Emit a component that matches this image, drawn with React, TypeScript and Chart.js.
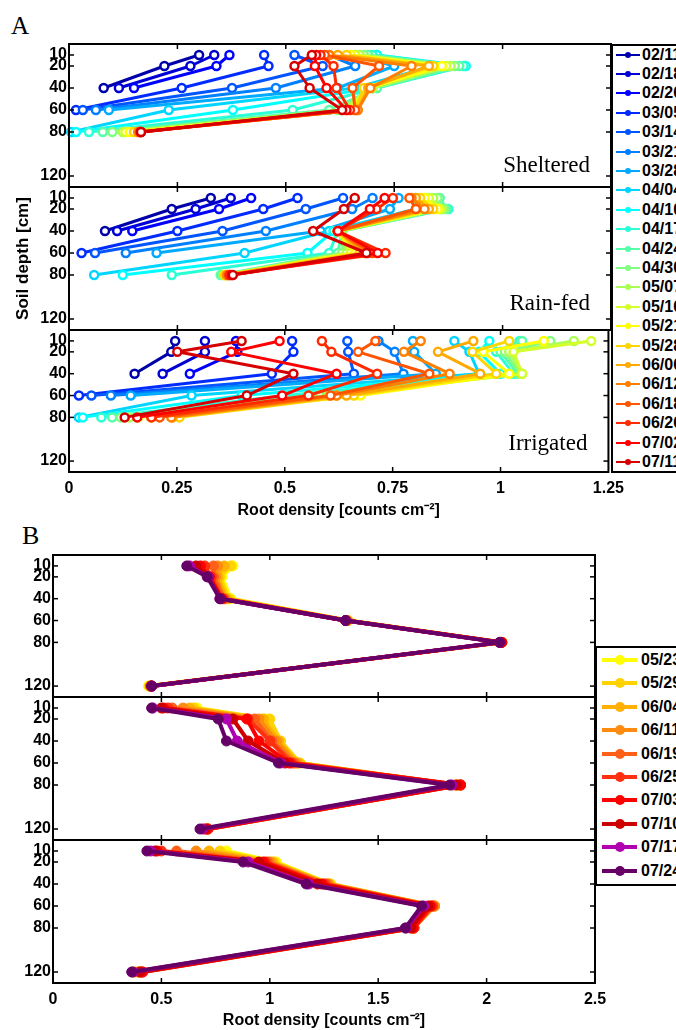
import React, { useEffect, useRef } from 'react';
import { Chart, registerables } from 'chart.js';

Chart.register(...registerables);

// ---------------- data ----------------
const depthsA = [10, 20, 40, 60, 80];
const depthsB = [10, 20, 40, 60, 80, 120];
const depthTicks = [10, 20, 40, 60, 80, 120];

const datesA = ['02/11', '02/18', '02/26', '03/05', '03/14', '03/21', '03/28', '04/04', '04/10', '04/17', '04/24',
  '04/30', '05/07', '05/16', '05/21', '05/28', '06/06', '06/12', '06/18', '06/26', '07/02', '07/11'];
const datesB = ['05/23', '05/29', '06/04', '06/11', '06/19', '06/25', '07/03', '07/10', '07/17', '07/24'];

const colorsA = ['rgb(0,0,170)', 'rgb(0,0,213)', 'rgb(0,0,255)', 'rgb(0,43,255)', 'rgb(0,85,255)', 'rgb(0,128,255)',
  'rgb(0,170,255)', 'rgb(0,213,255)', 'rgb(0,255,255)', 'rgb(43,255,213)', 'rgb(85,255,170)', 'rgb(128,255,128)',
  'rgb(170,255,85)', 'rgb(213,255,43)', 'rgb(255,255,0)', 'rgb(255,213,0)', 'rgb(255,170,0)', 'rgb(255,128,0)',
  'rgb(255,85,0)', 'rgb(255,43,0)', 'rgb(255,0,0)', 'rgb(213,0,0)'];
const colorsB = ['#ffff00', '#ffd200', '#ffb000', '#ff8c10', '#ff6018', '#ff3010', '#ff0000', '#cc0000', '#b000b0', '#660066'];

const xTicksA = [0, 0.25, 0.5, 0.75, 1, 1.25];
const xTicksB = [0, 0.5, 1, 1.5, 2, 2.5];

// root density per date (rows) at depthsA (columns)
const sheltered: (number | null)[][] = [
  [0.30, 0.22, 0.08, null, null],
  [0.335, 0.28, 0.115, null, null],
  [0.37, 0.34, 0.15, null, null],
  [0.45, 0.46, 0.26, 0.016, null],
  [0.52, 0.585, 0.376, 0.032, null],
  [0.60, 0.66, 0.477, 0.062, null],
  [0.66, 0.75, 0.62, 0.092, null],
  [0.71, 0.84, 0.66, 0.23, 0.005],
  [0.71, 0.915, 0.70, 0.378, 0.016],
  [0.70, 0.91, 0.71, 0.516, 0.046],
  [0.69, 0.90, 0.71, 0.60, 0.078],
  [0.68, 0.89, 0.70, 0.62, 0.10],
  [0.67, 0.88, 0.70, 0.63, 0.124],
  [0.66, 0.87, 0.69, 0.64, 0.13],
  [0.65, 0.86, 0.69, 0.65, 0.14],
  [0.64, 0.84, 0.68, 0.66, 0.15],
  [0.62, 0.83, 0.69, 0.665, 0.16],
  [0.60, 0.79, 0.695, 0.666, 0.16],
  [0.59, 0.715, 0.654, 0.66, 0.165],
  [0.58, 0.61, 0.617, 0.648, 0.165],
  [0.57, 0.567, 0.594, 0.64, 0.166],
  [0.56, 0.52, 0.555, 0.63, 0.166],
];
const rainfed: (number | null)[][] = [
  [0.327, 0.237, 0.083, null, null],
  [0.373, 0.292, 0.111, null, null],
  [0.42, 0.346, 0.146, null, null],
  [0.527, 0.448, 0.25, 0.029, null],
  [0.632, 0.546, 0.354, 0.06, null],
  [0.70, 0.653, 0.454, 0.131, null],
  [0.76, 0.74, 0.58, 0.202, null],
  [0.80, 0.80, 0.60, 0.405, 0.058],
  [0.83, 0.86, 0.61, 0.55, 0.124],
  [0.85, 0.875, 0.62, 0.60, 0.237],
  [0.855, 0.87, 0.63, 0.62, 0.35],
  [0.85, 0.865, 0.63, 0.63, 0.355],
  [0.84, 0.86, 0.625, 0.64, 0.36],
  [0.83, 0.855, 0.62, 0.65, 0.36],
  [0.82, 0.85, 0.62, 0.66, 0.36],
  [0.81, 0.84, 0.62, 0.67, 0.36],
  [0.80, 0.83, 0.62, 0.68, 0.365],
  [0.79, 0.82, 0.62, 0.69, 0.365],
  [0.785, 0.80, 0.62, 0.70, 0.37],
  [0.747, 0.709, 0.62, 0.73, 0.37],
  [0.728, 0.694, 0.62, 0.712, 0.375],
  [0.659, 0.634, 0.563, 0.686, 0.378],
];
const irrigated: (number | null)[][] = [
  [0.246, 0.237, 0.152, null, null],
  [0.315, 0.315, 0.217, null, null],
  [0.387, 0.39, 0.28, null, null],
  [0.517, 0.52, 0.47, 0.023, null],
  [0.645, 0.647, 0.66, 0.052, null],
  [0.717, 0.755, 0.775, 0.097, null],
  [0.797, 0.80, 0.85, 0.143, null],
  [0.893, 0.928, 0.95, 0.284, 0.023],
  [0.974, 0.95, 1.0, 0.40, 0.032],
  [1.044, 0.99, 1.03, 0.50, 0.075],
  [1.05, 1.0, 1.04, 0.56, 0.10],
  [1.115, 1.01, 1.045, 0.58, 0.12],
  [1.17, 1.02, 1.05, 0.60, 0.14],
  [1.21, 1.03, 1.05, 0.62, 0.16],
  [1.10, 0.96, 1.02, 0.675, 0.19],
  [1.02, 0.935, 0.99, 0.66, 0.256],
  [0.937, 0.855, 0.953, 0.643, 0.24],
  [0.815, 0.776, 0.882, 0.62, 0.237],
  [0.71, 0.67, 0.835, 0.606, 0.21],
  [0.586, 0.608, 0.714, 0.555, 0.191],
  [0.488, 0.376, 0.62, 0.494, 0.158],
  [0.40, 0.251, 0.52, 0.412, 0.129],
];

// panel B: rows = dates, columns = depthsB
const panelB1: number[][] = [
  [0.83, 0.78, 0.82, 1.36, 2.07, 0.44],
  [0.82, 0.77, 0.81, 1.36, 2.07, 0.445],
  [0.79, 0.76, 0.80, 1.36, 2.07, 0.45],
  [0.76, 0.75, 0.79, 1.355, 2.07, 0.45],
  [0.74, 0.74, 0.79, 1.355, 2.07, 0.45],
  [0.70, 0.73, 0.78, 1.35, 2.07, 0.455],
  [0.68, 0.72, 0.78, 1.35, 2.07, 0.455],
  [0.66, 0.72, 0.775, 1.35, 2.065, 0.455],
  [0.63, 0.715, 0.77, 1.35, 2.06, 0.455],
  [0.617, 0.711, 0.77, 1.35, 2.06, 0.455],
];
const panelB2: number[][] = [
  [0.665, 0.98, 1.03, 1.13, 1.86, 0.71],
  [0.65, 1.0, 1.05, 1.14, 1.86, 0.71],
  [0.63, 0.97, 1.04, 1.13, 1.87, 0.715],
  [0.60, 0.95, 1.03, 1.12, 1.87, 0.715],
  [0.55, 0.93, 1.01, 1.11, 1.88, 0.715],
  [0.53, 0.90, 1.0, 1.10, 1.88, 0.715],
  [0.51, 0.894, 0.95, 1.09, 1.88, 0.71],
  [0.50, 0.83, 0.90, 1.07, 1.86, 0.70],
  [0.46, 0.80, 0.85, 1.05, 1.84, 0.69],
  [0.455, 0.762, 0.80, 1.04, 1.83, 0.678],
];
const panelB3: number[][] = [
  [0.80, 1.03, 1.28, 1.75, 1.65, 0.37],
  [0.77, 1.02, 1.28, 1.76, 1.66, 0.38],
  [0.72, 1.01, 1.27, 1.76, 1.66, 0.39],
  [0.66, 1.00, 1.27, 1.76, 1.665, 0.40],
  [0.57, 0.99, 1.26, 1.75, 1.665, 0.41],
  [0.50, 0.98, 1.25, 1.75, 1.665, 0.415],
  [0.48, 0.97, 1.24, 1.74, 1.66, 0.41],
  [0.47, 0.95, 1.22, 1.73, 1.65, 0.40],
  [0.45, 0.90, 1.18, 1.71, 1.63, 0.37],
  [0.433, 0.877, 1.168, 1.70, 1.625, 0.363],
];

const panelNamesA = ['Sheltered', 'Rain-fed', 'Irrigated'];
const xTitle = 'Root density [counts cm\u207B\u00B2]';
const yTitle = 'Soil depth [cm]';

// ---------------- styling ----------------
const SANS = "'Liberation Sans', Arial, Helvetica, sans-serif";
const SERIF = "'Liberation Serif', 'Times New Roman', serif";
const tickFont = { family: SANS, size: 16, weight: 700 };

interface Spec {
  series: (number | null)[][];
  depths: number[];
  dates: string[];
  colors: string[];
  xMax: number;
  xTicks: number[];
  yAxisWidth: number;
  showX: boolean;
  xAxisHeight: number;
  showYTitle: boolean;
  label?: string;
  labelDy?: number;
  lineWidth: number;
  pointRadius: number;
  pointBorder: number;
  hollow: boolean;
  padTop: number;
  padBottom: number;
  padRight: number;
}

function buildConfig(s: Spec): any {
  const datasets = s.series.map((vals, i) => {
    const pts: { x: number; y: number }[] = [];
    vals.forEach((v, j) => {
      if (v !== null && v !== undefined) pts.push({ x: v, y: s.depths[j] });
    });
    return {
      label: s.dates[i],
      data: pts,
      borderColor: s.colors[i],
      backgroundColor: s.colors[i],
      pointBorderColor: s.colors[i],
      pointBackgroundColor: s.hollow ? '#ffffff' : s.colors[i],
      borderWidth: s.lineWidth,
      borderJoinStyle: 'round',
      borderCapStyle: 'round',
      pointRadius: s.pointRadius,
      pointBorderWidth: s.pointBorder,
      tension: 0,
      order: s.series.length - i,
      clip: 6,
    };
  });

  const framePlugin = {
    id: 'frame',
    afterDraw(chart: any) {
      const { ctx, chartArea: a, scales } = chart;
      ctx.save();
      ctx.strokeStyle = '#000';
      ctx.lineWidth = 1.5;
      const line = (x1: number, y1: number, x2: number, y2: number) => {
        ctx.beginPath();
        ctx.moveTo(x1, y1);
        ctx.lineTo(x2, y2);
        ctx.stroke();
      };
      (scales.y.ticks || []).forEach((t: any) => {
        const py = scales.y.getPixelForValue(t.value);
        line(a.left, py, a.left + 5, py);
        line(a.right - 5, py, a.right, py);
      });
      (scales.x.ticks || []).forEach((t: any) => {
        const px = scales.x.getPixelForValue(t.value);
        if (px <= a.left + 2 || px >= a.right - 2) return;
        line(px, a.top, px, a.top + 5);
        line(px, a.bottom - 5, px, a.bottom);
      });
      ctx.lineWidth = 2;
      ctx.strokeRect(a.left, a.top, a.right - a.left, a.bottom - a.top);
      if (s.label) {
        ctx.font = `23px ${SERIF}`;
        ctx.fillStyle = '#000';
        ctx.textAlign = 'right';
        ctx.textBaseline = 'alphabetic';
        ctx.fillText(s.label, a.right - 21, a.top + (s.labelDy || 0));
      }
      ctx.restore();
    },
  };

  const xScale: any = {
    type: 'linear',
    min: 0,
    max: s.xMax,
    display: s.showX,
    grid: { display: false, drawTicks: false },
    border: { display: false },
    afterBuildTicks: (sc: any) => {
      sc.ticks = s.xTicks.map((v) => ({ value: v }));
    },
    ticks: {
      font: tickFont, color: '#000', padding: 7, maxRotation: 0, autoSkip: false,
      callback: (v: any) => String(v),
    },
    title: {
      display: s.showX,
      text: xTitle,
      font: tickFont,
      color: '#000',
      padding: { top: 0, bottom: 0 },
    },
  };
  if (s.showX) {
    xScale.afterFit = (sc: any) => {
      sc.height = s.xAxisHeight;
    };
  }

  return {
    type: 'line',
    data: { datasets },
    options: {
      responsive: false,
      maintainAspectRatio: false,
      animation: false,
      devicePixelRatio: 1,
      events: [],
      layout: { padding: { top: s.padTop, bottom: s.padBottom, left: 0, right: s.padRight } },
      plugins: { legend: { display: false }, tooltip: { enabled: false } },
      scales: {
        x: xScale,
        y: {
          type: 'linear',
          min: 0,
          max: 130,
          reverse: true,
          grid: { display: false, drawTicks: false },
          border: { display: false },
          afterBuildTicks: (sc: any) => {
            sc.ticks = depthTicks.map((v) => ({ value: v }));
          },
          afterFit: (sc: any) => {
            sc.width = s.yAxisWidth;
          },
          ticks: { font: tickFont, color: '#000', padding: 2, autoSkip: false, callback: (v: any) => String(v) },
          title: {
            display: s.showYTitle,
            text: yTitle,
            font: { family: SANS, size: 17, weight: 700 },
            color: '#000',
            padding: { top: 13, bottom: 0 },
          },
        },
      },
    },
    plugins: [framePlugin],
  };
}

function ChartBox(props: { left: number; top: number; width: number; height: number; spec: Spec }) {
  const ref = useRef<HTMLCanvasElement>(null);
  useEffect(() => {
    const chart = new Chart(ref.current as HTMLCanvasElement, buildConfig(props.spec));
    return () => chart.destroy();
  }, []);
  return (
    <canvas
      ref={ref}
      width={props.width}
      height={props.height}
      style={{ position: 'absolute', left: props.left, top: props.top, width: props.width, height: props.height }}
    />
  );
}

function Legend(props: {
  left: number; top: number; height: number; dates: string[]; colors: string[];
  firstY: number; step: number; lineX1: number; lineX2: number; dotX: number; dotR: number; lineW: number; textX: number;
}) {
  const p = props;
  return (
    <div
      style={{
        position: 'absolute', left: p.left, top: p.top, width: 200, height: p.height,
        border: '2px solid #000', background: '#fff', boxSizing: 'border-box',
      }}
    >
      {p.dates.map((d, i) => {
        const cy = p.firstY + i * p.step - p.top - 2;
        const lx = p.left + 2;
        return (
          <div key={d} style={{ position: 'absolute', left: 0, top: 0 }}>
            <div style={{ position: 'absolute', left: p.lineX1 - lx, top: cy - p.lineW / 2, width: p.lineX2 - p.lineX1, height: p.lineW, background: p.colors[i] }} />
            <div style={{ position: 'absolute', left: p.dotX - lx - p.dotR, top: cy - p.dotR, width: p.dotR * 2, height: p.dotR * 2, borderRadius: '50%', background: p.colors[i] }} />
            <div style={{ position: 'absolute', left: p.textX - lx, top: cy - 8, font: `bold 16px ${SANS}`, lineHeight: '16px', color: '#000', whiteSpace: 'nowrap' }}>{d}</div>
          </div>
        );
      })}
    </div>
  );
}

export default function App() {
  const aTops = [44, 187, 330];
  const aBottoms = [187, 330, 472];
  const aSeries = [sheltered, rainfed, irrigated];
  const aLabelDy = [128, 123, 120];
  const bTops = [555, 697, 840];
  const bBottoms = [697, 840, 983];
  const bSeries = [panelB1, panelB2, panelB3];
  const pad = 12;

  return (
    <div style={{ position: 'absolute', left: 0, top: 0, width: 676, height: 1030, overflow: 'hidden', background: '#fff' }}>
      <div style={{ position: 'absolute', left: 11, top: 13, font: `25px ${SERIF}`, lineHeight: '25px', color: '#000' }}>A</div>
      <div style={{ position: 'absolute', left: 22, top: 523, font: `26px ${SERIF}`, lineHeight: '26px', color: '#000' }}>B</div>

      {aSeries.map((ser, k) => {
        const last = k === 2;
        const areaH = aBottoms[k] - aTops[k];
        const xH = 48;
        const height = pad + areaH + (last ? xH : pad);
        return (
          <ChartBox
            key={'a' + k}
            left={0}
            top={aTops[k] - pad}
            width={611 + 20}
            height={height}
            spec={{
              series: ser, depths: depthsA, dates: datesA, colors: colorsA,
              xMax: 1.25, xTicks: xTicksA, yAxisWidth: 69, showX: last, xAxisHeight: xH,
              showYTitle: k === 1, label: panelNamesA[k], labelDy: aLabelDy[k],
              lineWidth: 3, pointRadius: 4, pointBorder: 2.5, hollow: true,
              padTop: pad, padBottom: last ? 0 : pad, padRight: 20,
            }}
          />
        );
      })}

      {bSeries.map((ser, k) => {
        const last = k === 2;
        const areaH = bBottoms[k] - bTops[k];
        const xH = 47;
        const height = pad + areaH + (last ? xH : pad);
        return (
          <ChartBox
            key={'b' + k}
            left={0}
            top={bTops[k] - pad}
            width={595 + 20}
            height={height}
            spec={{
              series: ser, depths: depthsB, dates: datesB, colors: colorsB,
              xMax: 2.5, xTicks: xTicksB, yAxisWidth: 53, showX: last, xAxisHeight: xH,
              showYTitle: false,
              lineWidth: 4, pointRadius: 5, pointBorder: 1, hollow: false,
              padTop: pad, padBottom: last ? 0 : pad, padRight: 20,
            }}
          />
        );
      })}

      <Legend left={611} top={44} height={429} dates={datesA} colors={colorsA}
        firstY={54.5} step={19.4} lineX1={616} lineX2={640} dotX={628} dotR={3} lineW={2} textX={642} />
      <Legend left={595} top={646} height={240} dates={datesB} colors={colorsB}
        firstY={660} step={23.4} lineX1={602} lineX2={637} dotX={620} dotR={5} lineW={4} textX={641} />
    </div>
  );
}
